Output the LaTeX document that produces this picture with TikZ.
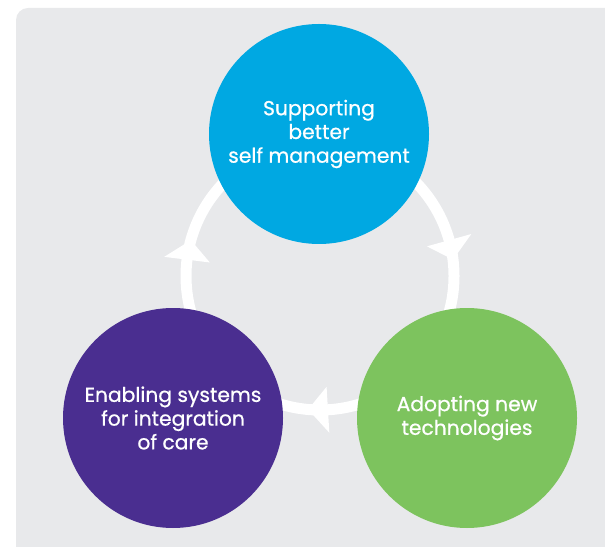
\documentclass[tikz,border=0pt]{standalone}
\usepackage{fontspec}
\setmainfont{Poppins}
\newfontfamily\bubblefont[FakeBold=0.7]{Poppins}
\definecolor{panelgray}{HTML}{E8E9EB}
\definecolor{careblue}{HTML}{00A8E2}
\definecolor{carepurple}{HTML}{4A2E90}
\definecolor{caregreen}{HTML}{7DC35E}
\begin{document}
\begin{tikzpicture}[x=0.75pt, y=0.75pt,
    bubble/.style={circle, minimum size=165pt, inner sep=0pt, align=center, text=white, font=\bubblefont\fontsize{15.2}{17.8}\selectfont},
    ring/.style={white, line width=8.25pt}]

\useasboundingbox (0,0) rectangle (605,546);
\clip (0,0) rectangle (605,546);
\fill[panelgray, rounded corners=9pt] (16,-20) rectangle (640,538);

% cycle ring and arrowheads
\coordinate (hub) at (320,270);
\draw[ring] (hub) circle[radius=134];

\begin{scope}[shift={(hub)}]
    \fill[white] (173:111) -- (173:157) -- (164.5:134) -- cycle;
    \fill[white] (15.5:111) -- (15.5:157) -- (7:134) -- cycle;
    \fill[white] (273.4:111) -- (273.4:157) -- (264.9:134) -- cycle;
\end{scope}

% the three circles
\node[bubble, fill=careblue] (support) at (319,412) {Supporting\\better\\self management};
\node[bubble, fill=caregreen] (adopt) at (467,128) {Adopting new\\technologies};
\node[bubble, fill=carepurple] (enable) at (173,128) {Enabling systems\\for integration\\of care};

\end{tikzpicture}
\end{document}
